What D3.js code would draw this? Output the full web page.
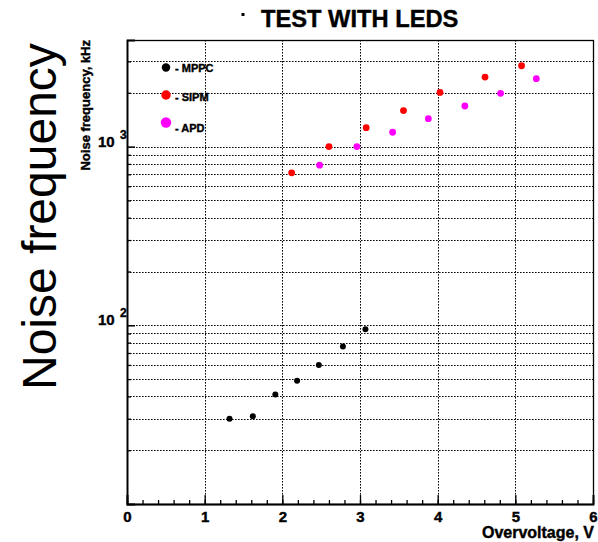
<!DOCTYPE html>
<html>
<head>
<meta charset="utf-8">
<script src="https://cdn.jsdelivr.net/npm/d3@7"></script>
<style>
  body { margin: 0; background: #fff; }
  svg { display: block; font-family: "Liberation Sans", Arial, sans-serif; }
  .b { font-weight: bold; stroke: #000; stroke-width: 0.4px; }
</style>
</head>
<body>
<div id="chart"></div>
<script>
// data
var mppcV = [1.32, 1.62, 1.91, 2.19, 2.47, 2.78, 3.07];
var mppcF = [30, 31, 41, 49, 60, 76, 95];
var sipmV = [2.12, 2.60, 3.08, 3.56, 4.03, 4.61, 5.08];
var sipmF = [713, 1000, 1277, 1590, 2010, 2450, 2835];
var apdV = [2.48, 2.96, 3.42, 3.88, 4.35, 4.81, 5.27];
var apdF = [787, 1000, 1203, 1433, 1688, 1988, 2400];

var xTicks = [0, 1, 2, 3, 4, 5, 6];
var yMajor = [100, 1000];
var yGrid = [20, 30, 40, 50, 60, 70, 80, 90, 100, 200, 300, 400, 500, 600, 700, 800, 900, 1000, 2000, 3000];
var seriesNames = ['MPPC', 'SIPM', 'APD'];

(function () {
    var width = 598, height = 542;
    var pLeft = 127, pRight = 593, pTop = 40, pBottom = 504;

    var x = d3.scaleLinear().domain([0, 6]).range([pLeft, pRight]);
    var y = d3.scaleLog().domain([10, 3950]).range([pBottom, pTop]);

    var svg = d3.select('#chart').append('svg')
        .attr('width', width)
        .attr('height', height);

    // grid
    var grid = svg.append('g')
        .attr('stroke', '#000')
        .attr('stroke-width', 1)
        .attr('stroke-dasharray', '1.6,1.4');

    grid.selectAll('line.h').data(yGrid).enter().append('line')
        .attr('class', 'h')
        .attr('x1', pLeft).attr('x2', pRight)
        .attr('y1', function (d) { return Math.round(y(d)) + 0.5; })
        .attr('y2', function (d) { return Math.round(y(d)) + 0.5; });

    grid.selectAll('line.v').data(xTicks.slice(1, -1)).enter().append('line')
        .attr('class', 'v')
        .attr('y1', pTop).attr('y2', pBottom)
        .attr('x1', function (d) { return Math.round(x(d)) + 0.5; })
        .attr('x2', function (d) { return Math.round(x(d)) + 0.5; });

    // frame
    svg.append('rect')
        .attr('x', pLeft + 0.5).attr('y', pTop + 0.5)
        .attr('width', pRight - pLeft).attr('height', pBottom - pTop)
        .attr('fill', 'none').attr('stroke', '#000').attr('stroke-width', 1.3);

    // x axis: minor + major ticks
    var xMinor = svg.append('g')
        .attr('transform', 'translate(0,' + pBottom + ')')
        .call(d3.axisBottom(x).tickValues(d3.range(0, 6.01, 0.2)).tickSize(-4).tickFormat(''));
    xMinor.select('.domain').remove();
    xMinor.selectAll('line').attr('stroke-width', 1.3);

    var xAxis = svg.append('g')
        .attr('transform', 'translate(0,' + pBottom + ')')
        .call(d3.axisBottom(x).tickValues(xTicks).tickSize(-9).tickFormat(d3.format('d')));
    xAxis.select('.domain').attr('stroke-width', 1.8);
    xAxis.selectAll('line').attr('stroke-width', 1.3);
    xAxis.selectAll('text')
        .attr('class', 'b')
        .attr('font-size', 15)
        .attr('font-family', '"Liberation Sans", Arial, sans-serif')
        .attr('dy', null).attr('y', 18);

    // y axis
    var yMinorAxis = svg.append('g')
        .attr('transform', 'translate(' + pLeft + ',0)')
        .call(d3.axisLeft(y).tickValues(yGrid.filter(function (d) { return yMajor.indexOf(d) < 0; })).tickSize(-4).tickFormat(''));
    yMinorAxis.select('.domain').remove();
    yMinorAxis.selectAll('line').attr('stroke-width', 1.3);

    var yAxis = svg.append('g')
        .attr('transform', 'translate(' + pLeft + ',0)')
        .call(d3.axisLeft(y).tickValues(yMajor).tickSize(-8).tickFormat(''));
    yAxis.select('.domain').attr('stroke-width', 1.8);
    yAxis.selectAll('line').attr('stroke-width', 1.5);

    var yLab = svg.selectAll('text.ylab').data(yMajor).enter().append('text')
        .attr('class', 'ylab b');
    yLab.append('tspan')
        .attr('x', 98)
        .attr('y', function (d) { return y(d); })
        .attr('font-size', 15)
        .text('10');
    yLab.append('tspan')
        .attr('x', 120)
        .attr('y', function (d) { return y(d) - 8; })
        .attr('font-size', 12)
        .text(function (d) { return Math.round(Math.log10(d)); });

    // points
    function drawSeries(vs, fs, color, r) {
        svg.append('g').selectAll('circle').data(vs).enter().append('circle')
            .attr('cx', function (d) { return x(d); })
            .attr('cy', function (d, i) { return y(fs[i]); })
            .attr('r', r)
            .attr('fill', color);
    }
    drawSeries(mppcV, mppcF, '#000', 3);
    drawSeries(sipmV, sipmF, '#ff0000', 3.4);
    drawSeries(apdV, apdF, '#ff00ff', 3.4);

    // legend
    var legendColors = ['#000', '#ff0000', '#ff00ff'];
    var legendR = [4.2, 4.7, 5.2];
    var legendY = [67.5, 95, 122.5];
    var legendTY = [71.5, 101, 132];
    var lg = svg.append('g');
    lg.selectAll('circle').data(seriesNames).enter().append('circle')
        .attr('cx', 166)
        .attr('cy', function (d, i) { return legendY[i]; })
        .attr('r', function (d, i) { return legendR[i]; })
        .attr('fill', function (d, i) { return legendColors[i]; });
    lg.selectAll('text').data(seriesNames).enter().append('text')
        .attr('class', 'b')
        .attr('x', 175)
        .attr('y', function (d, i) { return legendTY[i]; })
        .attr('font-size', 11)
        .text(function (d) { return '- ' + d; });

    // title
    svg.append('rect')
        .attr('x', 241.5).attr('y', 13).attr('width', 3).attr('height', 3)
        .attr('fill', '#000');
    svg.append('text')
        .attr('class', 'b')
        .attr('x', 261).attr('y', 27)
        .attr('font-size', 23.7)
        .text('TEST WITH LEDS');

    // axis titles
    svg.append('text')
        .attr('class', 'b')
        .attr('text-anchor', 'end')
        .attr('x', 594).attr('y', 538)
        .attr('font-size', 16)
        .text('Overvoltage, V');

    svg.append('text')
        .attr('class', 'b')
        .attr('transform', 'translate(90,40) rotate(-90)')
        .attr('text-anchor', 'end')
        .attr('font-size', 13)
        .text('Noise frequency, kHz');

    svg.append('text')
        .attr('transform', 'translate(56,390) rotate(-90)')
        .attr('font-size', 48)
        .text('Noise frequency');
})();
</script>
</body>
</html>
